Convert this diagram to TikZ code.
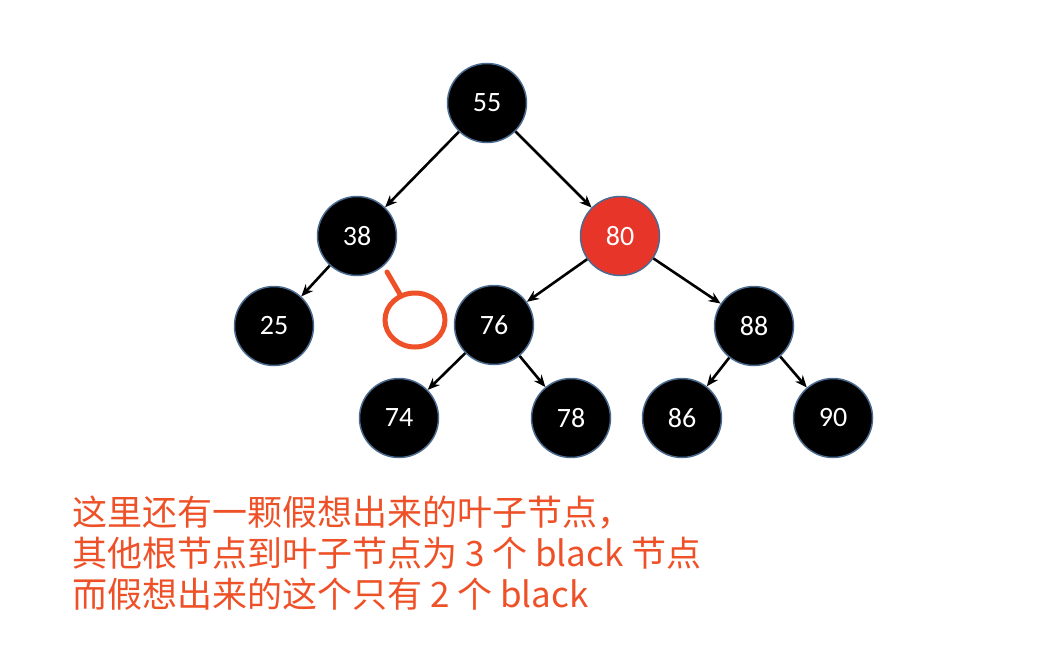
\documentclass[tikz,border=0pt]{standalone}
\usepackage{fontspec}
\newfontfamily\cjk{Noto Sans CJK SC}
\newfontfamily\numfont{Carlito}
\usetikzlibrary{arrows.meta,positioning,shapes.geometric}
\definecolor{rbedge}{HTML}{4A6A90}
\definecolor{rbred}{HTML}{E8352A}
\definecolor{noteorange}{HTML}{EE5128}

\begin{document}
\begin{tikzpicture}[x=1pt,y=-1pt,
    rbnode/.style={circle,draw=rbedge,line width=1.5pt,fill=black,text=white,
        minimum size=79pt,inner sep=0pt,font=\numfont\fontsize{28}{28}\selectfont},
    rbrednode/.style={rbnode,fill=rbred},
    link/.style={-{Stealth[length=12pt,width=10pt]},line width=2.6pt}]
    \useasboundingbox (0,0) rectangle (1046,650);
    \node[rbnode] (n55) at (487,103) {55};
    \node[rbnode] (n38) at (357,236) {38};
    \node[rbrednode] (n80) at (620,236) {80};
    \node[rbnode] (n25) at (274,326) {25};
    \node[rbnode] (n76) at (494,325) {76};
    \node[rbnode] (n88) at (754,326) {88};
    \node[rbnode] (n74) at (399,418) {74};
    \node[rbnode] (n78) at (571,418) {78};
    \node[rbnode] (n86) at (682,418) {86};
    \node[rbnode] (n90) at (833,418) {90};
    \path[link]
        (n55) edge (n38)
              edge (n80)
        (n38) edge (n25)
        (n80) edge (n76)
              edge (n88)
        (n76) edge (n74)
              edge (n78)
        (n88) edge (n86)
              edge (n90);
    % imagined leaf
    \node[ellipse,draw=noteorange,line width=5pt,minimum width=60pt,minimum height=54pt,inner sep=0pt] (nil) at (415,320) {};
    \coordinate (stub) at (387,272);
    \draw[noteorange,line width=5pt,line cap=round] (stub) -- (nil);
    \node[anchor=north west,align=left,text=noteorange,inner sep=0pt,
        font=\cjk\fontsize{35}{41}\selectfont] (note) at (72,496)
        {这里还有一颗假想出来的叶子节点，\\其他根节点到叶子节点为 3 个 black 节点\\而假想出来的这个只有 2 个 black};
\end{tikzpicture}
\end{document}
